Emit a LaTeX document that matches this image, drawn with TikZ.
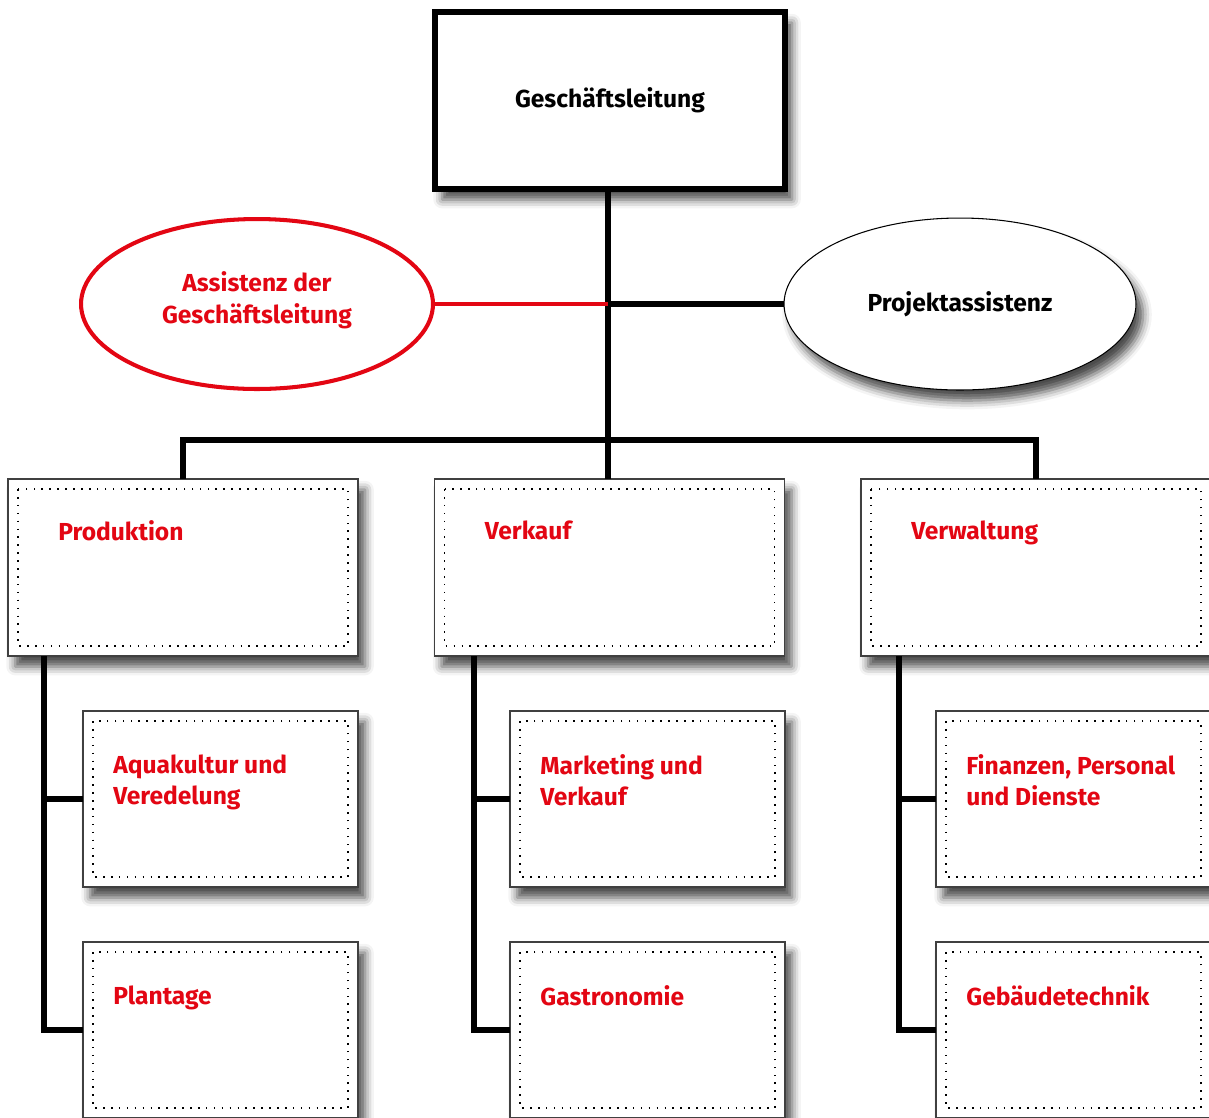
\documentclass[tikz,border=0pt]{standalone}
\usepackage{fontspec}
\setmainfont{Fira Sans}
\usetikzlibrary{shapes.geometric,shadows.blur,calc}
\definecolor{dred}{HTML}{E30613}
\begin{document}
\begin{tikzpicture}[x=0.02cm,y=-0.02cm,
  every node/.style={font=\bfseries\fontsize{14pt}{18pt}\selectfont},
  conn/.style={line width=3pt},
  redconn/.style={line width=2.3pt, draw=dred},
  sh/.style={blur shadow={shadow xshift=4pt,shadow yshift=-6pt,shadow blur radius=5pt,shadow opacity=70}},
  topbox/.style={draw, line width=3.4pt, fill=white, minimum width=7cm, minimum height=3.54cm, inner sep=0, outer sep=0, sh},
  lvtwo/.style={draw=black!75, line width=0.8pt, fill=white, minimum width=7cm, minimum height=3.54cm, inner sep=0, outer sep=0, sh},
  lvthree/.style={draw=black!75, line width=0.8pt, fill=white, minimum width=5.5cm, minimum height=3.52cm, inner sep=0, outer sep=0, sh},
  dots/.style={line width=0.9pt, dash pattern=on 0.9pt off 3.6pt},
  lbl/.style={text=dred, inner sep=0, align=left, anchor=north west},
  ellred/.style={ellipse, draw=dred, line width=2.3pt, fill=white, text=dred, align=center, minimum width=7.04cm, minimum height=3.4cm, inner sep=0, outer sep=0},
  ellblk/.style={ellipse, draw, line width=0.6pt, fill=white, align=center, minimum width=7.04cm, minimum height=3.44cm, inner sep=0, outer sep=0, sh}
]
\useasboundingbox (0,0) rectangle (1209,1117);
\clip (0,0) rectangle (1209,1117);
\newcommand\dotbox[1]{\draw[dots] ($(#1.north west)+(10,10)$) rectangle ($(#1.south east)+(-10,-10)$);}

% top
\node[topbox] (gl) at (610,100.5) {\raisebox{-4pt}{Geschäftsleitung}};
\node[ellred] (ass) at (257,304) {\begin{tabular}{@{}c@{}}Assistenz der\\Geschäftsleitung\\[3pt]\end{tabular}};
\node[ellblk] (proj) at (960,304) {Projektassistenz};

% level 2
\node[lvtwo] (prod) at (183,567.5) {};
\node[lvtwo] (verk) at (609.5,567.5) {};
\node[lvtwo] (verw) at (1036,567.5) {};
\foreach \n in {prod,verk,verw}{\dotbox{\n}}
\node[lbl] at ($(prod.north west)+(50,41)$) {Produktion};
\node[lbl] at ($(verk.north west)+(50,41)$) {Verkauf};
\node[lbl] at ($(verw.north west)+(50,41)$) {Verwaltung};

% level 3
\node[lvthree] (aqua) at (220.5,799) {};
\node[lvthree] (plant) at (220.5,1030) {};
\node[lvthree] (mark) at (647.5,799) {};
\node[lvthree] (gastro) at (647.5,1030) {};
\node[lvthree] (fin) at (1073.5,799) {};
\node[lvthree] (geb) at (1073.5,1030) {};
\foreach \n in {aqua,plant,mark,gastro,fin,geb}{\dotbox{\n}}
\node[lbl] at ($(aqua.north west)+(30,43)$) {Aquakultur und\\Veredelung};
\node[lbl] at ($(plant.north west)+(30,43)$) {Plantage};
\node[lbl] at ($(mark.north west)+(30,43)$) {Marketing und\\Verkauf};
\node[lbl] at ($(gastro.north west)+(30,43)$) {Gastronomie};
\node[lbl] at ($(fin.north west)+(30,43)$) {Finanzen, Personal\\und Dienste};
\node[lbl] at ($(geb.north west)+(30,43)$) {Gebäudetechnik};

% connectors
\coordinate (mx) at (608,0);
\coordinate (bar) at (608,440);
\draw[conn] (mx |- gl.south) -- (mx |- verk.north);
\draw[conn] (prod.north) |- (bar) -| (verw.north);
\draw[redconn] (ass.east) -- (ass.east -| mx);
\draw[conn] (proj.west) -- (proj.west -| mx);

\coordinate (px) at (44,0);
\coordinate (vx) at (474,0);
\coordinate (wx) at (899,0);
\draw[conn] (px |- prod.south) |- (plant.west);
\draw[conn] (aqua.west) -- (aqua.west -| px);
\draw[conn] (vx |- verk.south) |- (gastro.west);
\draw[conn] (mark.west) -- (mark.west -| vx);
\draw[conn] (wx |- verw.south) |- (geb.west);
\draw[conn] (fin.west) -- (fin.west -| wx);
\end{tikzpicture}
\end{document}
